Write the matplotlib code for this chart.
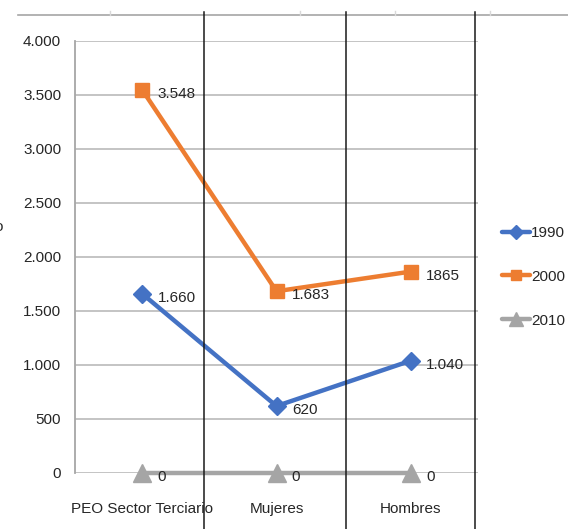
import matplotlib
matplotlib.use('Agg')
import matplotlib.pyplot as plt
from matplotlib.lines import Line2D

# Datos
categorias = ['PEO Sector Terciario', 'Mujeres', 'Hombres']
v1990 = [1660, 620, 1040]
v2000 = [3548, 1683, 1865]
v2010 = [0, 0, 0]
etq1990 = ['1.660', '620', '1.040']
etq2000 = ['3.548', '1.683', '1865']
etq2010 = ['0', '0', '0']
yticks = [0, 500, 1000, 1500, 2000, 2500, 3000, 3500, 4000]
ytick_labels = ['0', '500', '1.000', '1.500', '2.000', '2.500', '3.000', '3.500', '4.000']

plt.rcParams['font.family'] = ['Liberation Sans', 'DejaVu Sans']
FS = 11

W, H = 568, 529
fig = plt.figure(figsize=(W / 100, H / 100), dpi=100)
ax = fig.add_axes([75 / W, 56 / H, 403 / W, 432 / H])

x = range(len(categorias))
series = [
    (v1990, etq1990, '#4472C4', 'D', 9, '1990'),
    (v2000, etq2000, '#ED7D31', 's', 10, '2000'),
    (v2010, etq2010, '#A5A5A5', '^', 13, '2010'),
]
for vals, etqs, color, mk, ms, nombre in series:
    ax.plot(x, vals, color=color, lw=3.2, marker=mk, markersize=ms,
            label=nombre, zorder=3, solid_capstyle='round', clip_on=False)
    for xi, v, t in zip(x, vals, etqs):
        ax.annotate(t, (xi, v), xytext=(11, -3), textcoords='offset points',
                    ha='left', va='center', fontsize=FS, color='#262626', zorder=4)

ax.set_xlim(-0.5, 2.5)
ax.set_ylim(0, 4000)
ax.set_yticks(yticks)
ax.set_yticklabels(ytick_labels)
ax.set_xticks(list(x))
ax.set_xticklabels(categorias)
ax.tick_params(axis='y', length=0, pad=10, labelsize=FS, labelcolor='#262626')
ax.tick_params(axis='x', length=0, pad=21, labelsize=FS, labelcolor='#262626')
ax.grid(axis='y', color='#BFBFBF', lw=1.3)
ax.set_axisbelow(True)
for s in ['top', 'right', 'bottom']:
    ax.spines[s].set_visible(False)
ax.spines['left'].set_color('#A6A6A6')
ax.spines['left'].set_linewidth(1.3)

leg = fig.legend(loc='upper left', bbox_to_anchor=(502 / W, 1 - 226 / H),
                 frameon=False, fontsize=FS, handlelength=1.8, markerscale=0.75,
                 handletextpad=0.1, labelspacing=1.95, borderaxespad=0, borderpad=0)
for t in leg.get_texts():
    t.set_color('#262626')

# Líneas de celdas de la hoja
fig.add_artist(Line2D([18 / W, 1], [1 - 15 / H] * 2, color='#A6A6A6', lw=1.2))
for px in [110, 300, 395, 490]:
    fig.add_artist(Line2D([px / W] * 2, [1 - 11 / H, 1 - 15 / H], color='#D9D9D9', lw=1))
for px in [204, 346, 475]:
    fig.add_artist(Line2D([px / W] * 2, [0, 1 - 12 / H], color='#1A1A1A', lw=1.1, zorder=10))

fig.text(-6 / W, 1 - 227 / H, 'o', fontsize=FS, va='center', ha='left', color='#262626')

fig.savefig('out.png', dpi=100)
